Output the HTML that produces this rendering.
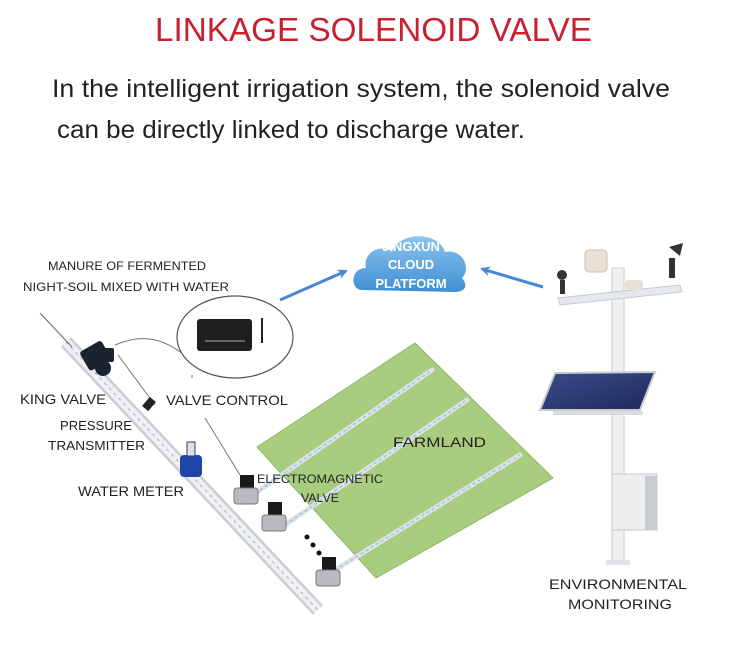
<!DOCTYPE html>
<html><head><meta charset="utf-8"><style>
html,body{margin:0;padding:0;background:#fff;}
svg{display:block;}
text{font-family:"Liberation Sans",sans-serif;}
</style></head><body>
<svg width="742" height="650" viewBox="0 0 742 650" xmlns="http://www.w3.org/2000/svg">
<defs>
<linearGradient id="cl" x1="0" y1="0" x2="0" y2="1"><stop offset="0" stop-color="#8cc4ee"/><stop offset="1" stop-color="#3f8fd4"/></linearGradient>
<linearGradient id="sp" x1="0" y1="0" x2="1" y2="1"><stop offset="0" stop-color="#3a4c8a"/><stop offset="1" stop-color="#1f2a5c"/></linearGradient>
<marker id="ar" markerWidth="10" markerHeight="10" refX="8" refY="5" orient="auto" markerUnits="userSpaceOnUse"><path d="M0,0 L10,5 L0,10 L3,5 z" fill="#4a86d8"/></marker>
</defs>
<text x="155" y="41" font-size="33" fill="#c8202e" textLength="437" lengthAdjust="spacingAndGlyphs">LINKAGE SOLENOID VALVE</text>
<text x="52" y="97" font-size="25" fill="#222" textLength="618" lengthAdjust="spacingAndGlyphs">In the intelligent irrigation system, the solenoid valve</text>
<text x="57" y="138" font-size="25" fill="#222" textLength="468" lengthAdjust="spacingAndGlyphs">can be directly linked to discharge water.</text>

<!-- farmland -->
<polygon points="257,447 415,343 553,478 376,578" fill="#a8cd7e" stroke="#8fb86a"/>
<g stroke="#d8e2ea" stroke-width="5" stroke-linecap="round">
<line x1="250" y1="497" x2="432" y2="370"/>
<line x1="285" y1="525" x2="467" y2="400"/>
<line x1="335" y1="570" x2="520" y2="455"/>
</g>
<g stroke="#9fb0bd" stroke-width="1" stroke-dasharray="3,3">
<line x1="250" y1="497" x2="432" y2="370"/>
<line x1="285" y1="525" x2="467" y2="400"/>
<line x1="335" y1="570" x2="520" y2="455"/>
</g>

<!-- main pipe -->
<line x1="66" y1="342" x2="318" y2="610" stroke="#c9ced3" stroke-width="14"/>
<line x1="66" y1="342" x2="318" y2="610" stroke="#eef0f2" stroke-width="9"/>
<line x1="66" y1="342" x2="318" y2="610" stroke="#aab" stroke-width="1" stroke-dasharray="3,4"/>
<line x1="40" y1="313" x2="72" y2="347" stroke="#666" stroke-width="1"/>

<!-- wires -->
<path d="M115,345 C150,330 170,345 185,355 C205,368 250,385 255,370" fill="none" stroke="#777" stroke-width="1"/>
<line x1="118" y1="355" x2="155" y2="405" stroke="#777"/>
<line x1="205" y1="418" x2="240" y2="475" stroke="#777"/>
<line x1="192" y1="375" x2="192" y2="378" stroke="#777"/>

<!-- king valve -->
<g fill="#1c2330"><rect x="83" y="345" width="25" height="22" rx="3" transform="rotate(-30 95 356)"/><rect x="98" y="348" width="16" height="14" rx="2"/><circle cx="103" cy="368" r="8"/></g>
<!-- pressure transmitter -->
<rect x="145" y="398" width="8" height="12" fill="#222" transform="rotate(40 149 404)"/>
<!-- water meter -->
<rect x="180" y="455" width="22" height="22" rx="4" fill="#1f44a8"/>
<rect x="187" y="442" width="8" height="14" fill="#dde" stroke="#345"/>

<!-- solenoid valves -->
<g>
<rect x="240" y="475" width="14" height="13" fill="#1a1a1a"/><rect x="234" y="488" width="24" height="16" rx="3" fill="#b9bcbf" stroke="#777"/>
<rect x="268" y="502" width="14" height="13" fill="#1a1a1a"/><rect x="262" y="515" width="24" height="16" rx="3" fill="#b9bcbf" stroke="#777"/>
<rect x="322" y="557" width="14" height="13" fill="#1a1a1a"/><rect x="316" y="570" width="24" height="16" rx="3" fill="#b9bcbf" stroke="#777"/>
<circle cx="307" cy="537" r="2.5" fill="#111"/><circle cx="313" cy="545" r="2.5" fill="#111"/><circle cx="319" cy="553" r="2.5" fill="#111"/>
</g>

<!-- controller ellipse -->
<ellipse cx="235" cy="337" rx="58" ry="41" fill="#fff" stroke="#555" stroke-width="1.2"/>
<rect x="197" y="319" width="55" height="32" rx="3" fill="#1e1e1e"/>
<rect x="205" y="340" width="40" height="2" fill="#666"/>
<line x1="262" y1="318" x2="262" y2="343" stroke="#222" stroke-width="2"/>

<!-- cloud -->
<path d="M362,290 C350,290 350,268 366,268 C362,250 385,244 392,252 C398,232 438,230 445,252 C462,248 472,268 462,278 C470,288 462,292 455,292 Z" fill="url(#cl)"/>
<text x="411" y="251" font-size="13" font-weight="bold" fill="#fff" text-anchor="middle">JINGXUN</text>
<text x="411" y="269" font-size="13" font-weight="bold" fill="#fff" text-anchor="middle">CLOUD</text>
<text x="411" y="288" font-size="13" font-weight="bold" fill="#fff" text-anchor="middle">PLATFORM</text>
<line x1="280" y1="300" x2="346" y2="271" stroke="#4a86d8" stroke-width="3" marker-end="url(#ar)"/>
<line x1="543" y1="287" x2="482" y2="269" stroke="#4a86d8" stroke-width="3" marker-end="url(#ar)"/>

<!-- weather station -->
<rect x="612" y="268" width="12" height="295" fill="#eef0f2" stroke="#c8cdd2"/>
<rect x="606" y="560" width="24" height="5" fill="#e0e3e6"/>
<polygon points="558,298 680,285 682,292 560,305" fill="#e6e9ec" stroke="#c6cbd0"/>
<rect x="585" y="250" width="22" height="22" rx="4" fill="#e8e2d6" stroke="#c7c0b0"/>
<rect x="625" y="280" width="18" height="10" rx="3" fill="#e8e2d6"/>
<circle cx="562" cy="275" r="5" fill="#333"/><rect x="560" y="280" width="5" height="14" fill="#333"/>
<polygon points="669,247 683,243 680,256" fill="#333"/><rect x="669" y="258" width="6" height="20" fill="#333"/>
<polygon points="555,373 655,372 640,410 540,410" fill="url(#sp)" stroke="#c8ccd2" stroke-width="2"/>
<rect x="553" y="411" width="90" height="4" fill="#d8dde2"/>
<rect x="612" y="474" width="45" height="56" fill="#eceeef" stroke="#c5c9cc"/>
<rect x="645" y="476" width="12" height="54" fill="#c9ccce"/>

<!-- labels -->
<g font-size="12" fill="#222">
<text x="48" y="270" textLength="158" lengthAdjust="spacingAndGlyphs">MANURE OF FERMENTED</text>
<text x="23" y="291" textLength="206" lengthAdjust="spacingAndGlyphs">NIGHT-SOIL MIXED WITH WATER</text>
</g>
<g font-size="14" fill="#222">
<text x="20" y="404" textLength="86" lengthAdjust="spacingAndGlyphs">KING VALVE</text>
<text x="166" y="405" textLength="122" lengthAdjust="spacingAndGlyphs">VALVE CONTROL</text>
<text x="60" y="430" font-size="13" textLength="72" lengthAdjust="spacingAndGlyphs">PRESSURE</text>
<text x="48" y="450" font-size="13" textLength="97" lengthAdjust="spacingAndGlyphs">TRANSMITTER</text>
<text x="78" y="496" textLength="106" lengthAdjust="spacingAndGlyphs">WATER METER</text>
<text x="393" y="447" textLength="93" lengthAdjust="spacingAndGlyphs">FARMLAND</text>
<text x="257" y="483" font-size="12" textLength="126" lengthAdjust="spacingAndGlyphs">ELECTROMAGNETIC</text>
<text x="301" y="502" font-size="12" textLength="38" lengthAdjust="spacingAndGlyphs">VALVE</text>
<text x="549" y="589" textLength="138" lengthAdjust="spacingAndGlyphs">ENVIRONMENTAL</text>
<text x="568" y="609" textLength="104" lengthAdjust="spacingAndGlyphs">MONITORING</text>
</g>
</svg>
</body></html>
